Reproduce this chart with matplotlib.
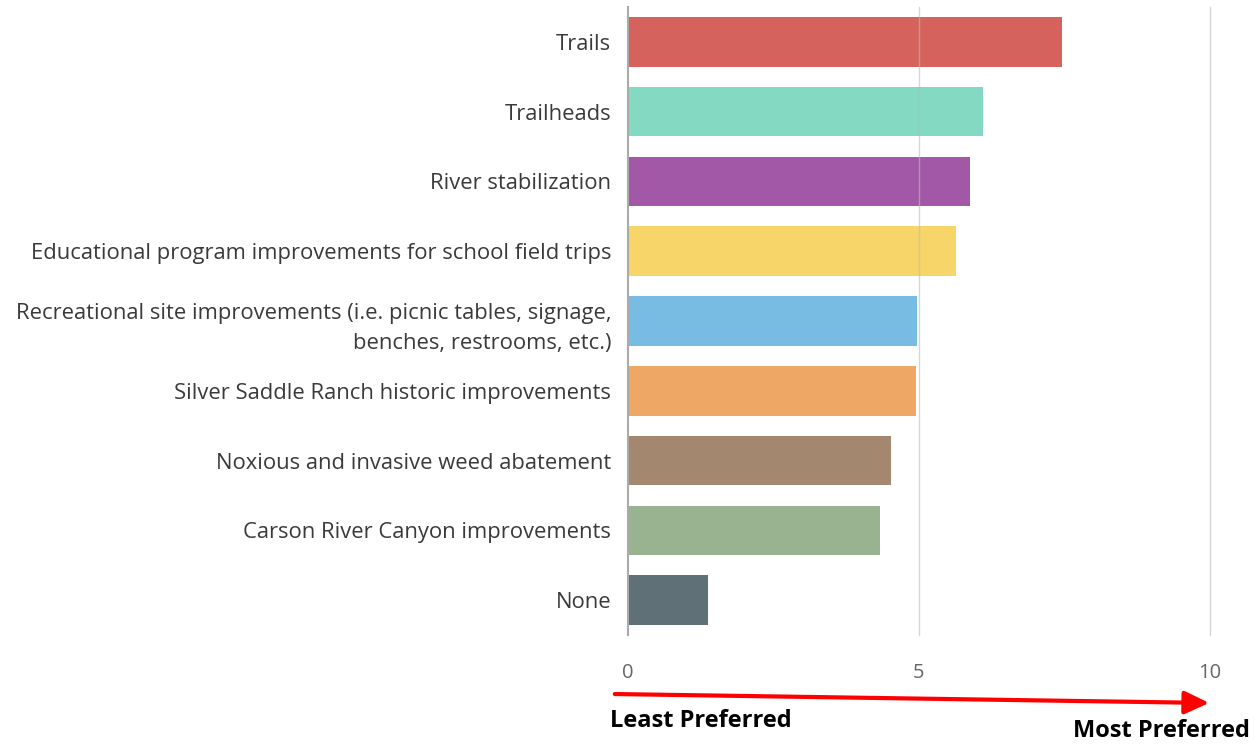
import matplotlib
matplotlib.use("Agg")
import matplotlib.pyplot as plt

categories = [
    "Trails",
    "Trailheads",
    "River stabilization",
    "Educational program improvements for school field trips",
    "Recreational site improvements (i.e. picnic tables, signage,\nbenches, restrooms, etc.)",
    "Silver Saddle Ranch historic improvements",
    "Noxious and invasive weed abatement",
    "Carson River Canyon improvements",
    "None",
]
scores = [7.46, 6.10, 5.88, 5.64, 4.97, 4.95, 4.52, 4.33, 1.37]
colors = ["#d45d57", "#7fd8c0", "#a052a4", "#f7d463", "#74b9e2",
          "#eea460", "#a0846a", "#96b08c", "#5a6b73"]
xticks = [0, 5, 10]

plt.rcParams['font.family'] = ['Open Sans', 'DejaVu Sans']

fig = plt.figure(figsize=(12.6, 7.45), dpi=100)
ax = fig.add_axes([628 / 1260, 1 - 635 / 745, 582 / 1260, 628 / 745])

y = list(range(len(categories)))
ax.barh(y, scores, height=0.71, color=colors, alpha=0.97, zorder=2)
ax.set_ylim(len(categories) - 0.5, -0.5)
ax.set_xlim(0, 10)

# grid drawn over the bars, like the original
for v in xticks[1:]:
    ax.axvline(v, color="#bbbbbb", lw=1, alpha=0.6, zorder=3, clip_on=False)
ax.axvline(0, color="#aaaaaa", lw=1.5, zorder=3, clip_on=False)

for s in ax.spines.values():
    s.set_visible(False)

ax.set_yticks(y)
ax.set_yticklabels(categories, fontsize=15.8, color="#3a3a3a", ha="right",
                   multialignment="right", linespacing=1.6)
ax.tick_params(axis="y", length=0, pad=12)
ax.set_xticks(xticks)
ax.set_xticklabels([str(t) for t in xticks], fontsize=14.5, color="#666666")
ax.tick_params(axis="x", length=0, pad=20)

# preference arrow under the axis
fig.patches.append(matplotlib.patches.FancyArrowPatch(
    (612 / 1260, 1 - 694 / 745), (1212 / 1260, 1 - 703 / 745),
    transform=fig.transFigure, arrowstyle="-|>,head_length=15,head_width=7",
    color="red", lw=3, mutation_scale=1))
fig.text(610 / 1260, 1 - 721 / 745, "Least Preferred", fontsize=17,
         fontweight="bold", va="center", ha="left", color="black")
fig.text(1250 / 1260, 1 - 731 / 745, "Most Preferred", fontsize=17,
         fontweight="bold", va="center", ha="right", color="black")

fig.savefig("out.png", dpi=100, facecolor="white")
